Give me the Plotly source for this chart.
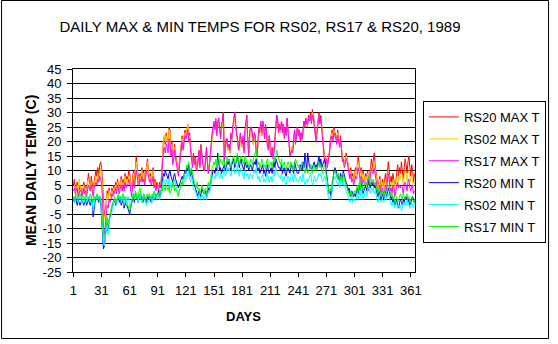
import plotly.graph_objects as go

days = list(range(1, 366))

rs20_max = [
    5, 7, 3, 4, 6, 2, 3, 5, 4, 2,
    3, 6, 4, 5, 3, 7, 9, 6, 4, 8,
    5, 3, 6, 9, 10, 8, 11, 7, 12, 13,
    11, 6, -3, -6, -4, 0, 3, 1, 4, 2,
    1, 4, 2, 5, 3, 6, 4, 7, 5, 3,
    6, 8, 5, 7, 4, 9, 6, 8, 7, 10,
    9, 5, 3, 7, 10, 6, 12, 15, 11, 8,
    6, 9, 7, 11, 8, 10, 6, 9, 13, 14,
    10, 7, 9, 6, 8, 11, 5, 7, 4, 6,
    5, 4, 6, 5, 8, 15, 20, 22, 19, 23,
    21, 18, 25, 24, 17, 20, 13, 16, 19, 15,
    14, 11, 9, 13, 17, 20, 22, 18, 21, 24,
    22, 25, 26, 21, 23, 18, 14, 12, 16, 13,
    15, 11, 10, 14, 17, 12, 19, 16, 13, 11,
    10, 14, 18, 13, 9, 12, 16, 20, 22, 24,
    26, 25, 27, 23, 26, 28, 24, 22, 25, 27,
    30, 14, 18, 20, 21, 17, 19, 16, 22, 20,
    24, 28, 30, 26, 23, 21, 18, 17, 22, 20,
    18, 21, 17, 23, 26, 29, 20, 16, 22, 25,
    24, 21, 19, 23, 22, 17, 15, 20, 24, 23,
    26, 22, 27, 24, 21, 25, 23, 19, 18, 22,
    17, 16, 18, 15, 17, 20, 26, 29, 27, 24,
    25, 23, 27, 24, 26, 22, 25, 23, 28, 24,
    19, 16, 15, 18, 17, 22, 24, 20, 23, 25,
    22, 24, 21, 23, 20, 24, 27, 26, 28, 25,
    27, 29, 28, 30, 27, 31, 29, 26, 22, 21,
    24, 28, 30, 27, 29, 25, 20, 16, 14, 13,
    15, 12, 14, 16, 20, 22, 24, 21, 25, 23,
    22, 20, 24, 21, 19, 22, 18, 14, 15, 12,
    13, 16, 14, 12, 10, 8, 11, 7, 9, 6,
    8, 11, 9, 13, 15, 12, 9, 11, 7, 10,
    8, 6, 9, 7, 10, 5, 8, 12, 14, 11,
    13, 16, 12, 9, 7, 4, 6, 8, 3, 5,
    7, 4, 6, 9, 5, 8, 13, 10, 6, 8,
    5, 9, 7, 4, 6, 10, 12, 8, 11, 9,
    13, 10, 7, 11, 14, 12, 9, 13, 15, 11,
    8, 12, 10, 6, 9,
]

rs02_max = [
    4, 5, 3, 3, 5, 2, 7, 4, 3, 2,
    2, 5, 3, 4, 2, 6, 7, 5, 3, 6,
    4, 2, 5, 7, 8, 6, 9, 6, 10, 11,
    8, 4, -4, -7, -5, -1, 2, 0, 3, 1,
    1, 3, 2, 4, 3, 5, 3, 6, 4, 3,
    5, 7, 4, 6, 4, 8, 5, 7, 6, 8,
    8, 4, 3, 6, 9, 5, 11, 13, 10, 7,
    5, 8, 7, 10, 7, 9, 5, 8, 12, 13,
    9, 7, 8, 6, 7, 10, 5, 6, 4, 5,
    5, 4, 5, 5, 8, 16, 21, 22, 20, 22,
    20, 18, 24, 23, 17, 19, 13, 16, 18, 15,
    13, 11, 9, 12, 16, 19, 21, 18, 20, 23,
    22, 24, 26, 21, 22, 18, 14, 12, 15, 13,
    14, 11, 10, 13, 16, 12, 18, 15, 13, 11,
    10, 13, 17, 13, 9, 12, 15, 19, 21, 23,
    25, 24, 26, 23, 25, 27, 23, 22, 24, 26,
    28, 15, 18, 19, 20, 17, 18, 16, 21, 20,
    23, 27, 29, 25, 22, 21, 18, 17, 21, 20,
    18, 20, 17, 22, 25, 28, 19, 16, 21, 24,
    23, 21, 19, 22, 21, 17, 15, 19, 23, 22,
    25, 22, 26, 24, 21, 24, 23, 19, 18, 21,
    17, 16, 17, 15, 17, 20, 25, 28, 26, 24,
    24, 23, 26, 24, 25, 22, 24, 23, 27, 24,
    19, 16, 15, 18, 17, 21, 23, 20, 22, 24,
    22, 23, 21, 22, 20, 24, 26, 26, 27, 25,
    27, 28, 28, 29, 27, 30, 28, 26, 22, 21,
    24, 27, 29, 27, 28, 25, 20, 16, 14, 13,
    15, 12, 14, 15, 19, 21, 23, 21, 24, 22,
    21, 20, 23, 21, 19, 21, 18, 14, 15, 12,
    13, 15, 14, 12, 9, 8, 10, 7, 8, 6,
    7, 10, 9, 12, 13, 11, 8, 10, 7, 9,
    7, 6, 8, 7, 9, 5, 7, 10, 12, 10,
    11, 13, 10, 8, 6, 4, 5, 7, 3, 4,
    6, 4, 5, 7, 4, 7, 10, 8, 5, 6,
    4, 7, 6, 3, 5, 7, 9, 6, 8, 7,
    9, 8, 5, 8, 10, 9, 6, 9, 10, 8,
    6, 9, 7, 4, 6,
]

rs17_max = [
    3, 4, 2, 3, 4, 1, 2, 3, 3, 1,
    2, 4, 2, 3, 1, 4, 5, 4, 3, 5,
    3, 1, 4, 5, 6, 5, 7, 6, 8, 7,
    5, 0, -10, -12, -9, -5, -2, -3, 0, -1,
    0, 2, 1, 3, 2, 4, 2, 5, 3, 2,
    4, 5, 3, 5, 3, 6, 4, 5, 5, 7,
    6, 2, 1, 4, 7, 4, 8, 10, 8, 5,
    5, 7, 6, 8, 6, 7, 5, 7, 10, 9,
    8, 6, 7, 5, 6, 8, 4, 5, 3, 5,
    4, 3, 5, 4, 7, 13, 17, 18, 16, 19,
    18, 16, 21, 20, 15, 17, 12, 14, 17, 14,
    12, 10, 8, 11, 15, 18, 20, 17, 19, 22,
    21, 23, 24, 20, 21, 17, 13, 11, 15, 12,
    14, 10, 11, 13, 16, 11, 18, 15, 12, 10,
    10, 13, 17, 12, 9, 11, 16, 20, 23, 25,
    27, 24, 28, 22, 27, 28, 25, 21, 26, 27,
    30, 12, 18, 21, 20, 18, 19, 17, 23, 21,
    25, 29, 30, 27, 22, 22, 17, 18, 23, 21,
    19, 22, 16, 24, 27, 29, 21, 15, 23, 25,
    25, 22, 20, 23, 22, 16, 15, 21, 25, 24,
    27, 23, 27, 25, 21, 26, 24, 18, 17, 22,
    16, 15, 17, 14, 16, 21, 27, 29, 27, 23,
    26, 24, 27, 23, 26, 21, 25, 22, 28, 23,
    18, 15, 16, 17, 16, 22, 24, 19, 23, 25,
    22, 24, 20, 23, 21, 25, 27, 25, 28, 26,
    26, 28, 27, 29, 26, 29, 28, 25, 21, 20,
    23, 27, 29, 26, 28, 24, 19, 15, 13, 12,
    14, 11, 13, 15, 18, 21, 22, 20, 23, 22,
    21, 19, 22, 20, 18, 21, 17, 13, 14, 11,
    12, 14, 13, 11, 9, 7, 9, 6, 7, 5,
    6, 8, 7, 10, 11, 9, 6, 8, 5, 7,
    6, 4, 6, 5, 7, 3, 6, 9, 11, 9,
    9, 11, 8, 6, 4, 2, 4, 5, 2, 3,
    4, 2, 3, 5, 3, 6, 9, 7, 3, 4,
    2, 5, 4, 1, 3, 5, 6, 4, 5, 4,
    5, 4, 2, 5, 6, 5, 3, 6, 7, 4,
    3, 5, 4, 2, 3,
]

rs20_min = [
    0, -1, 1, -1, -2, 0, -1, -2, -1, 0,
    -1, -2, -1, 0, -2, -1, 0, -1, -2, 0,
    -1, -6, -2, -1, 0, 1, 0, -1, 1, 0,
    -6, -14, -17, -16, -12, -9, -8, -11, -7, -6,
    -5, -3, -2, -1, 0, -2, -1, 0, 1, -1,
    0, -2, -1, 0, -3, -1, -2, -2, -3, -4,
    -5, -3, -1, 0, 1, -1, 2, 1, 0, -1,
    1, 2, 0, 1, -1, 0, 1, 0, -1, 1,
    0, 1, 0, -1, 1, 0, 1, 0, 1, 2,
    2, 3, 1, 2, 4, 7, 9, 8, 10, 9,
    8, 7, 9, 10, 8, 7, 6, 8, 9, 7,
    6, 5, 4, 5, 6, 7, 8, 7, 9, 10,
    9, 11, 10, 12, 9, 8, 10, 7, 6, 5,
    4, 3, 2, 1, 3, 2, 1, 4, 3, 2,
    2, 3, 1, 3, 4, 3, 5, 7, 9, 10,
    10, 9, 11, 10, 16, 12, 10, 11, 9, 10,
    11, 12, 10, 11, 13, 12, 14, 11, 10, 12,
    13, 14, 11, 12, 13, 15, 12, 11, 13, 14,
    12, 11, 10, 13, 12, 11, 12, 10, 11, 12,
    11, 10, 12, 13, 12, 14, 11, 10, 11, 9,
    10, 11, 12, 9, 10, 8, 11, 12, 10, 9,
    10, 11, 9, 12, 13, 11, 14, 13, 12, 11,
    11, 10, 12, 9, 10, 11, 9, 8, 10, 11,
    10, 9, 11, 12, 10, 9, 13, 11, 10, 9,
    9, 10, 12, 11, 10, 13, 11, 16, 12, 10,
    16, 13, 11, 12, 10, 11, 12, 13, 11, 12,
    11, 13, 15, 12, 14, 11, 12, 13, 14, 12,
    9, 5, 4, 2, 3, 1, 5, 8, 10, 11,
    10, 9, 7, 8, 6, 9, 8, 7, 10, 8,
    7, 6, 5, 3, 4, 2, 1, 3, 2, 1,
    2, 1, 3, 4, 2, 5, 3, 6, 4, 2,
    3, 4, 5, 3, 6, 7, 5, 4, 6, 5,
    6, 4, 5, 3, 2, 1, 3, 2, 0, 1,
    2, 0, 1, 3, 1, 2, 4, 3, 1, 0,
    1, -1, 0, -2, -1, 0, -2, -3, -1, 0,
    -1, -2, 0, -1, 1, 0, 1, -1, 0, -2,
    -1, 0, 1, 0, -1,
]

rs02_min = [
    1, -1, 0, 1, 0, -1, 0, 1, 0, -1,
    0, -1, 0, 1, -1, 0, 1, 0, -1, 1,
    0, -4, -1, 0, 1, 0, 1, 0, 0, 1,
    -5, -11, -15, -16, -13, -10, -8, -12, -9, -6,
    -6, -3, -2, -1, 0, -1, -2, 0, 1, 0,
    1, -1, 0, 1, -2, 0, -1, 1, 0, 1,
    -3, -2, 0, 1, 2, 0, 1, 2, 0, -1,
    1, 2, 0, -1, 0, 1, 0, -1, -2, 0,
    -1, 0, 1, 0, -1, 1, 0, 2, 1, 0,
    1, 2, 0, 1, 3, 5, 7, 6, 5, 7,
    6, 5, 7, 6, 4, 5, 4, 6, 7, 5,
    4, 3, 2, 3, 4, 5, 6, 5, 7, 8,
    7, 9, 8, 10, 7, 6, 8, 5, 4, 3,
    3, 2, 1, 0, 2, 1, 0, 2, 1, 0,
    1, 2, 0, 2, 3, 2, 4, 6, 8, 8,
    8, 7, 9, 8, 10, 9, 7, 9, 8, 7,
    9, 10, 8, 9, 11, 10, 11, 9, 8, 10,
    10, 11, 9, 9, 10, 12, 10, 8, 10, 11,
    9, 8, 7, 10, 9, 8, 9, 7, 8, 9,
    8, 7, 9, 10, 9, 11, 8, 7, 8, 6,
    7, 8, 9, 6, 7, 6, 8, 9, 7, 6,
    7, 8, 6, 9, 10, 8, 11, 10, 9, 8,
    8, 7, 9, 6, 7, 8, 6, 5, 7, 8,
    7, 6, 8, 9, 7, 6, 9, 8, 7, 6,
    6, 7, 8, 7, 6, 9, 7, 5, 6, 7,
    6, 7, 8, 9, 7, 5, 6, 8, 7, 6,
    7, 8, 9, 8, 9, 7, 6, 7, 8, 7,
    5, 2, 1, 0, 1, 0, 4, 6, 7, 8,
    7, 6, 5, 6, 4, 6, 7, 5, 6, 5,
    4, 3, 2, 1, 0, -1, 0, 1, -1, 0,
    0, -1, 1, 2, 0, 3, 1, 4, 2, 0,
    1, 2, 3, 1, 4, 5, 3, 2, 4, 3,
    4, 2, 3, 1, 0, -1, 1, 0, -1, 0,
    0, -1, 0, 2, 0, 1, 2, 1, -1, -2,
    -1, -2, -1, -3, -2, -1, -3, -2, -3, -2,
    -4, -3, -1, -2, -1, -2, 0, -1, -2, -3,
    -2, -1, -2, -3, -1,
]

rs17_min = [
    1, 0, 1, 2, 1, 0, 1, 2, 1, 0,
    1, 1, 0, 2, 1, 1, 0, 1, 2, 1,
    0, -1, 1, 0, 1, 2, 1, 0, 1, 0,
    -3, -9, -12, -13, -10, -8, -6, -9, -7, -5,
    -4, -2, -1, 0, 1, -1, 0, 1, 2, 0,
    1, 0, 1, 2, 0, 1, -1, -1, -2, -3,
    -4, -2, -1, 1, 2, 0, 3, 2, 1, 0,
    3, 4, 2, 1, 0, 2, 1, 0, 1, 2,
    1, 2, 1, 0, 2, 1, 3, 2, 1, 2,
    2, 1, 3, 2, 4, 3, 5, 4, 3, 5,
    4, 3, 5, 2, 3, 4, 6, 5, 3, 4,
    3, 2, 1, 3, 4, 6, 5, 7, 8, 9,
    10, 12, 11, 13, 10, 9, 11, 8, 7, 6,
    5, 4, 6, 3, 4, 2, 3, 5, 4, 2,
    3, 4, 2, 5, 6, 4, 7, 9, 11, 12,
    13, 12, 14, 11, 13, 15, 12, 14, 13, 12,
    14, 13, 11, 12, 15, 13, 14, 12, 11, 13,
    14, 15, 13, 12, 14, 16, 13, 12, 14, 15,
    14, 13, 12, 15, 14, 12, 13, 11, 12, 14,
    13, 12, 14, 15, 16, 17, 14, 12, 13, 11,
    12, 14, 13, 11, 12, 10, 13, 14, 12, 11,
    12, 13, 11, 14, 15, 13, 16, 17, 15, 14,
    13, 12, 14, 11, 12, 13, 11, 10, 12, 13,
    12, 11, 13, 12, 10, 11, 12, 14, 13, 12,
    11, 12, 10, 11, 13, 12, 10, 9, 11, 10,
    9, 10, 11, 12, 10, 9, 11, 12, 10, 11,
    10, 12, 13, 11, 12, 10, 9, 11, 12, 10,
    8, 6, 3, 2, 4, 3, 6, 8, 9, 10,
    9, 8, 7, 9, 6, 7, 8, 6, 9, 7,
    6, 5, 4, 3, 2, 1, 3, 2, 1, 2,
    3, 2, 4, 5, 3, 6, 4, 7, 5, 3,
    4, 5, 6, 4, 7, 8, 6, 5, 7, 6,
    7, 5, 6, 4, 3, 2, 4, 3, 1, 2,
    3, 1, 2, 4, 2, 3, 5, 4, 2, 1,
    2, 0, 1, -1, 0, 1, -1, 0, 1, 2,
    1, 0, 2, 1, 0, 1, 2, 0, 1, -1,
    0, 1, 0, -1, 0,
]

series_names = ["RS20 MAX T", "RS02 MAX T", "RS17 MAX T", "RS20 MIN T", "RS02 MIN T", "RS17 MIN T"]
series_values = [rs20_max, rs02_max, rs17_max, rs20_min, rs02_min, rs17_min]
series_colors = ["#FF0000", "#FFCC00", "#FF00FF", "#0000FF", "#00FFFF", "#00FF00"]

x_tickvals = list(range(1, 366, 30))
x_ticktext = [str(v) for v in x_tickvals]
y_tickvals = list(range(-25, 50, 5))
y_ticktext = [str(v) for v in y_tickvals]

FONT = "Liberation Sans, Arial, sans-serif"

fig = go.Figure()
for name, vals, col in zip(series_names, series_values, series_colors):
    fig.add_trace(go.Scatter(x=days, y=vals, mode="lines", name=name,
                             legendgroup=name,
                             line=dict(color=col, width=1)))

W, H = 558, 344
L, R, T, B = 73, 138, 69, 72
pw, ph = W - L - R, H - T - B

def px_x(p):
    return (p - L) / pw

def px_y(p):
    return (H - B - p) / ph

fig.update_layout(
    width=W, height=H,
    margin=dict(l=L, r=R, t=T, b=B),
    paper_bgcolor="white", plot_bgcolor="white",
    font=dict(family=FONT, size=13, color="black"),
    showlegend=True,
    legend=dict(x=px_x(428), xanchor="left", y=px_y(101), yanchor="top",
                bordercolor="black", borderwidth=1, bgcolor="white",
                font=dict(family=FONT, size=13, color="black"),
                tracegroupgap=2, itemwidth=30),
    title=dict(text="DAILY MAX & MIN TEMPS FOR RS02, RS17 & RS20, 1989",
               x=260 / W, xref="container", xanchor="center",
               y=1 - 27 / H, yref="container", yanchor="middle",
               font=dict(family=FONT, size=15, color="black")),
    xaxis=dict(range=[0.5, 365.5], tickmode="array", tickvals=x_tickvals,
               ticktext=x_ticktext, ticks="outside", ticklen=4, tickcolor="black",
               showgrid=False, zeroline=False, showline=True, linecolor="black",
               linewidth=1, mirror=True, ticklabelstandoff=2,
               tickfont=dict(family=FONT, size=13, color="black")),
    yaxis=dict(range=[-25, 45], tickmode="array", tickvals=y_tickvals,
               ticktext=y_ticktext, ticks="outside", ticklen=5, tickcolor="black",
               showgrid=True, gridcolor="black", gridwidth=1, zeroline=False,
               showline=True, linecolor="black", linewidth=1, mirror=True,
               ticklabelstandoff=3,
               tickfont=dict(family=FONT, size=13, color="black")),
    annotations=[
        dict(text="<b>MEAN DAILY TEMP (C)</b>", xref="paper", yref="paper",
             x=px_x(30), y=0.5, xanchor="center", yanchor="middle",
             textangle=-90, showarrow=False,
             font=dict(family=FONT, size=14, color="black")),
        dict(text="<b>DAYS</b>", xref="paper", yref="paper",
             x=px_x(246), y=px_y(316), xanchor="center", yanchor="middle",
             showarrow=False, font=dict(family=FONT, size=13, color="black")),
    ],
    shapes=[
        dict(type="rect", xref="paper", yref="paper",
             x0=px_x(0.5), x1=px_x(555.5), y0=px_y(338.5), y1=px_y(0.5),
             line=dict(color="black", width=1), fillcolor="rgba(0,0,0,0)",
             layer="below"),
    ],
)

fig.write_html("out.html")
